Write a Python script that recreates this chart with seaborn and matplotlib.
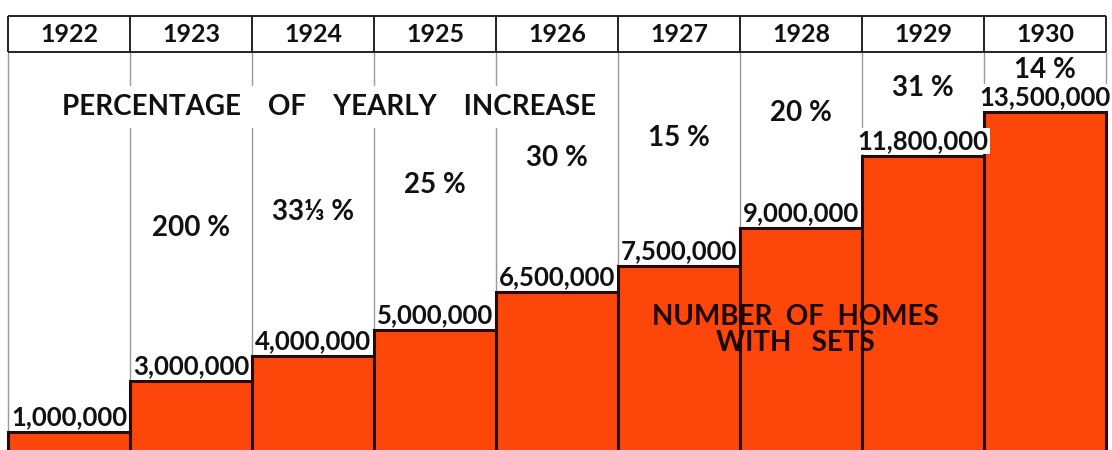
import numpy as np
import matplotlib
matplotlib.use("Agg")
import matplotlib.pyplot as plt
import seaborn as sns

# Data (homes in millions)
years = ["1922", "1923", "1924", "1925", "1926", "1927", "1928", "1929", "1930"]
homes = [1.0, 3.0, 4.0, 5.0, 6.5, 7.5, 9.0, 11.8, 13.5]
home_labels = ["1,000,000", "3,000,000", "4,000,000", "5,000,000", "6,500,000",
               "7,500,000", "9,000,000", "11,800,000", "13,500,000"]
pct_labels = ["", "200 %", "33⅓ %", "25 %", "30 %", "15 %", "20 %", "31 %", "14 %"]

# Layout: height (in chart units) where each percentage label sits
pct_y = [0, 8.98, 9.61, 10.66, 11.72, 12.5, 13.48, 14.45, 15.15]

bar_color = "#fd470a"
edge_color = "#2a0805"
ink = "#111111"
W = "bold"

sns.set_theme(style="white")
plt.rcParams["font.family"] = ["Lato", "DejaVu Sans"]

fig = plt.figure(figsize=(11.12, 4.5), dpi=100)
ax = fig.add_axes([0, 0, 1, 1])

sns.barplot(x=years, y=homes, color=bar_color, saturation=1, width=1,
            edgecolor=edge_color, linewidth=2.2, ax=ax, zorder=2)

ax.set_xlim(-0.566, 8.549)
ax.set_ylim(0.3125, 17.89)
ax.axis("off")

# Header band with years
hdr_top, hdr_bot = 17.25, 15.85
bounds = np.arange(-0.5, 9.0, 1.0)
ax.vlines(bounds, 0, hdr_bot, color="#9a9a9a", lw=1, zorder=1)
ax.hlines([hdr_top, hdr_bot], -0.5, 8.5, color="#222222", lw=1.4, zorder=3)
ax.vlines(bounds, hdr_bot, hdr_top, color="#222222", lw=1.4, zorder=3)
for i, yr in enumerate(years):
    ax.text(i, (hdr_top + hdr_bot) / 2, yr, ha="center", va="center",
            fontsize=18, fontweight=W, color=ink, zorder=4)

# Value labels above bars
for i, (v, lab) in enumerate(zip(homes, home_labels)):
    ax.text(i, v + 0.27, lab, ha="center", va="baseline", fontsize=18.5,
            fontweight=W, color=ink, zorder=4,
            bbox=dict(facecolor="white", edgecolor="none", pad=1))

# Percentage labels
for i, (lab, y) in enumerate(zip(pct_labels, pct_y)):
    if lab:
        ax.text(i, y, lab, ha="center", va="center", fontsize=20,
                fontweight=W, color=ink, zorder=4,
                bbox=dict(facecolor="white", edgecolor="none", pad=1))

ax.text(2.13, 13.71, "PERCENTAGE    OF    YEARLY    INCREASE", ha="center",
        va="center", fontsize=20, fontweight=W, color=ink, zorder=4,
        bbox=dict(facecolor="white", edgecolor="none", pad=6))

ax.text(5.95, 5.0, "NUMBER  OF  HOMES\nWITH   SETS", ha="center", va="center",
        multialignment="center", fontsize=20, fontweight=W,
        color="#1a0500", linespacing=1.0, zorder=4)

plt.savefig("out.png", dpi=100)
